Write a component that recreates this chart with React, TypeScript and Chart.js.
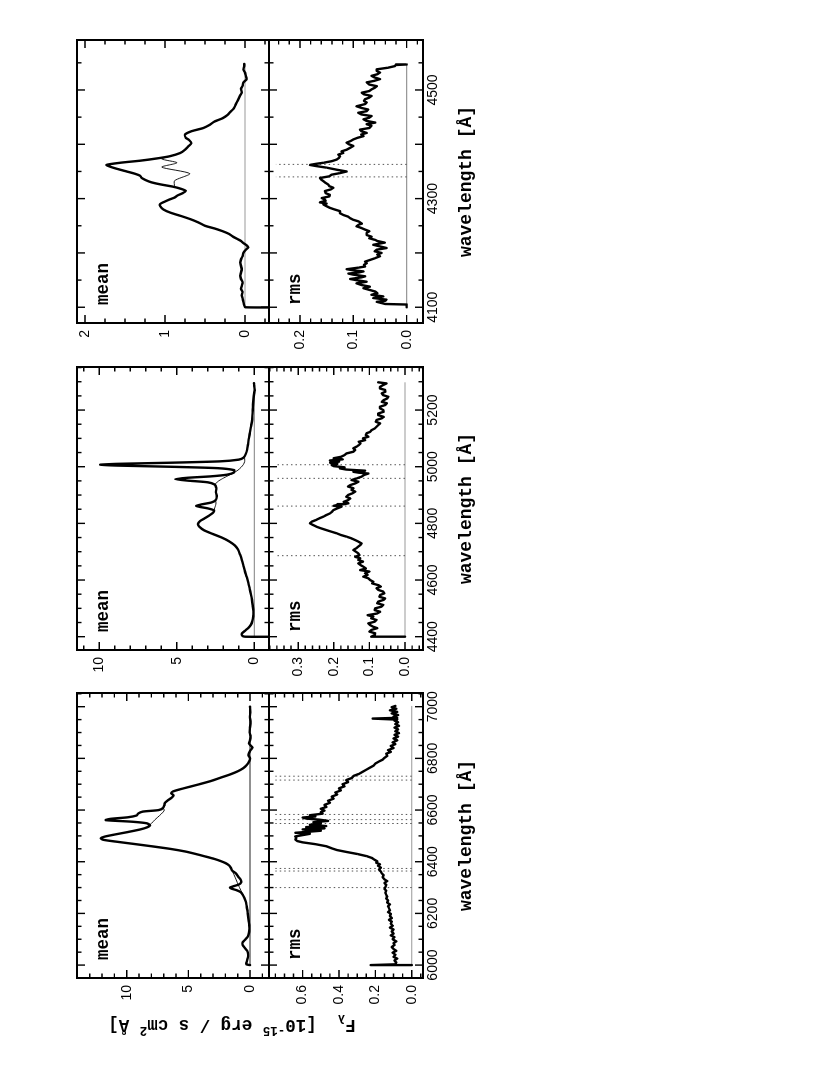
import React, { useEffect, useRef } from "react";
import { Chart, registerables } from "chart.js";

Chart.register(...registerables);

type Pt = [number, number];

// ---------------- DATA ----------------
// H-alpha region: mean spectrum (thick), narrow-line-free profile (thin), rms spectrum
const haMean: Pt[] = [
  [6000, 0.0], [6003, 0.3], [6012, 0.28], [6025, 0.2], [6040, 0.15], [6055, 0.22], [6068, 0.45], [6078, 0.6],
  [6088, 0.6], [6098, 0.4], [6110, 0.18], [6125, 0.08], [6140, 0.05], [6155, 0.06], [6170, 0.1], [6185, 0.14],
  [6200, 0.18], [6215, 0.22], [6230, 0.28], [6245, 0.34], [6260, 0.45], [6272, 0.58], [6282, 0.75], [6290, 1.1],
  [6296, 1.5], [6300, 1.62], [6305, 1.35], [6312, 0.9], [6320, 0.72], [6330, 0.75], [6342, 0.95], [6355, 1.15],
  [6366, 1.45], [6376, 1.55], [6386, 1.7], [6395, 2.0], [6403, 2.4], [6411, 2.9], [6420, 3.6], [6430, 4.4],
  [6440, 5.3], [6450, 6.5], [6460, 8.0], [6470, 9.6], [6478, 10.9], [6485, 11.9], [6491, 12.1], [6497, 11.8],
  [6505, 11.0], [6515, 9.9], [6525, 8.9], [6533, 8.35], [6541, 8.1], [6549, 8.4], [6555, 9.6], [6561, 11.7],
  [6566, 11.3], [6572, 9.9], [6579, 9.2], [6587, 9.05], [6594, 8.7], [6600, 7.4], [6608, 7.05], [6618, 6.95],
  [6628, 6.9], [6638, 6.65], [6648, 6.35], [6657, 6.2], [6665, 6.4], [6672, 6.25], [6680, 5.7], [6690, 4.9],
  [6700, 4.1], [6712, 3.2], [6725, 2.4], [6738, 1.6], [6750, 1.0], [6762, 0.55], [6775, 0.25], [6790, 0.05],
  [6800, 0.0], [6812, 0.12], [6822, 0.08], [6832, -0.05], [6842, -0.2], [6850, -0.05], [6858, 0.08], [6870, 0.0],
  [6885, -0.05], [6900, 0.03], [6920, 0.0], [6940, -0.04], [6960, 0.01], [6980, -0.02], [7000, 0.0],
];
const haMeanThinA: Pt[] = [[6272, 0.58], [6290, 0.75], [6310, 0.95], [6330, 1.12], [6350, 1.3], [6370, 1.5], [6386, 1.7]];
const haMeanThinB: Pt[] = [[6533, 8.35], [6548, 8.0], [6563, 7.7], [6578, 7.35], [6592, 7.05], [6600, 6.95], [6608, 7.05]];
const haRms: Pt[] = [
  [6000, 0], [6000, 0.225], [6003, 0.09], [6010, 0.085], [6018, 0.095], [6025, 0.08], [6032, 0.1], [6040, 0.09],
  [6048, 0.105], [6055, 0.085], [6062, 0.1], [6070, 0.11], [6078, 0.095], [6085, 0.1], [6092, 0.085], [6100, 0.105],
  [6108, 0.095], [6115, 0.115], [6122, 0.1], [6130, 0.11], [6138, 0.1], [6145, 0.12], [6152, 0.105], [6160, 0.115],
  [6168, 0.11], [6175, 0.125], [6182, 0.11], [6190, 0.12], [6198, 0.115], [6205, 0.13], [6212, 0.12], [6220, 0.125],
  [6228, 0.13], [6235, 0.12], [6242, 0.135], [6250, 0.13], [6258, 0.14], [6265, 0.135], [6272, 0.14], [6280, 0.145],
  [6288, 0.14], [6295, 0.15], [6302, 0.145], [6310, 0.14], [6318, 0.15], [6325, 0.135], [6332, 0.15], [6340, 0.16],
  [6348, 0.155], [6355, 0.165], [6362, 0.17], [6370, 0.18], [6377, 0.17], [6384, 0.185], [6390, 0.175], [6396, 0.195],
  [6402, 0.19], [6408, 0.205], [6415, 0.22], [6422, 0.25], [6430, 0.3], [6438, 0.36], [6445, 0.41], [6452, 0.44],
  [6460, 0.47], [6468, 0.53], [6475, 0.6], [6480, 0.63], [6486, 0.64], [6492, 0.635], [6498, 0.64], [6503, 0.6],
  [6508, 0.56], [6512, 0.64], [6516, 0.57], [6520, 0.5], [6525, 0.6], [6529, 0.48], [6534, 0.58], [6538, 0.47],
  [6543, 0.56], [6548, 0.5], [6553, 0.54], [6558, 0.46], [6563, 0.51], [6567, 0.58], [6571, 0.6], [6575, 0.53],
  [6580, 0.56], [6586, 0.49], [6592, 0.5], [6598, 0.48], [6605, 0.5], [6612, 0.47], [6620, 0.48], [6628, 0.45],
  [6636, 0.46], [6644, 0.43], [6652, 0.44], [6660, 0.41], [6668, 0.42], [6676, 0.39], [6684, 0.4], [6692, 0.37],
  [6700, 0.38], [6708, 0.35], [6716, 0.36], [6724, 0.33], [6732, 0.32], [6740, 0.29], [6748, 0.27], [6756, 0.25],
  [6764, 0.23], [6772, 0.21], [6780, 0.2], [6788, 0.18], [6795, 0.16], [6802, 0.15], [6810, 0.135], [6818, 0.14],
  [6825, 0.115], [6832, 0.13], [6840, 0.1], [6848, 0.115], [6855, 0.09], [6862, 0.105], [6870, 0.08], [6877, 0.1],
  [6884, 0.075], [6891, 0.095], [6898, 0.07], [6905, 0.09], [6912, 0.075], [6919, 0.095], [6926, 0.07], [6933, 0.09],
  [6940, 0.075], [6946, 0.095], [6950, 0.08], [6954, 0.215], [6957, 0.08], [6962, 0.1], [6968, 0.075], [6974, 0.11],
  [6980, 0.08], [6986, 0.12], [6992, 0.085], [6998, 0.11], [7003, 0.09],
];
const haZero = [6000, 7003];
const haLines = [6300, 6364, 6374, 6548, 6563, 6583, 6716, 6731];
const haLineTop = 0.75;
const haWaveTicks = [6000, 6200, 6400, 6600, 6800, 7000];
const haMeanTicks = [0, 5, 10];
const haRmsTicks = [0, 0.2, 0.4, 0.6];

// H-beta region
const hbMean: Pt[] = [
  [4400, -2.0], [4400, 0.6], [4404, 0.78], [4411, 0.8], [4420, 0.62], [4430, 0.4], [4442, 0.22], [4456, 0.12],
  [4472, 0.07], [4490, 0.06], [4510, 0.1], [4530, 0.15], [4550, 0.22], [4570, 0.3], [4590, 0.38], [4610, 0.48],
  [4630, 0.6], [4650, 0.7], [4670, 0.8], [4690, 0.92], [4708, 1.05], [4722, 1.25], [4736, 1.6], [4750, 2.1],
  [4763, 2.7], [4776, 3.25], [4788, 3.55], [4798, 3.63], [4808, 3.5], [4818, 3.2], [4828, 2.9], [4838, 2.65],
  [4846, 2.6], [4853, 3.0], [4858, 3.5], [4862, 3.75], [4867, 3.4], [4874, 2.75], [4882, 2.5], [4895, 2.42],
  [4910, 2.48], [4925, 2.45], [4937, 2.55], [4945, 3.0], [4951, 4.3], [4956, 5.1], [4961, 4.3], [4966, 2.8],
  [4972, 1.75], [4980, 1.3], [4988, 1.3], [4995, 2.4], [5000, 5.5], [5004, 8.8], [5007, 9.95], [5010, 8.9],
  [5014, 5.5], [5019, 2.2], [5025, 1.0], [5032, 0.7], [5045, 0.55], [5060, 0.46], [5080, 0.4], [5100, 0.35],
  [5120, 0.28], [5140, 0.22], [5160, 0.15], [5180, 0.12], [5200, 0.1], [5220, 0.08], [5240, 0.05], [5255, 0.02],
  [5270, -0.03], [5285, 0.0], [5295, 0.02],
];
const hbMeanThinA: Pt[] = [[4846, 2.6], [4855, 2.55], [4863, 2.5], [4872, 2.47], [4882, 2.5]];
const hbMeanThinB: Pt[] = [
  [4937, 2.55], [4948, 2.35], [4958, 2.05], [4968, 1.7], [4978, 1.35], [4988, 1.05], [4998, 0.85], [5008, 0.7],
  [5018, 0.62], [5028, 0.62], [5035, 0.65],
];
const hbRms: Pt[] = [
  [4400, 0], [4400, 0.095], [4406, 0.085], [4412, 0.084], [4418, 0.1], [4424, 0.094], [4430, 0.078], [4435, 0.089],
  [4441, 0.098], [4447, 0.103], [4453, 0.085], [4459, 0.08], [4465, 0.095], [4471, 0.089], [4476, 0.105], [4482, 0.078],
  [4488, 0.07], [4494, 0.085], [4500, 0.084], [4506, 0.066], [4512, 0.061], [4518, 0.078], [4524, 0.075], [4530, 0.06],
  [4535, 0.056], [4541, 0.072], [4547, 0.07], [4553, 0.058], [4559, 0.061], [4565, 0.075], [4571, 0.08], [4577, 0.068],
  [4582, 0.075], [4588, 0.092], [4594, 0.089], [4600, 0.098], [4606, 0.103], [4612, 0.117], [4618, 0.105], [4624, 0.112],
  [4630, 0.1], [4635, 0.126], [4641, 0.11], [4647, 0.117], [4653, 0.125], [4659, 0.131], [4665, 0.118], [4671, 0.131],
  [4677, 0.126], [4682, 0.14], [4688, 0.128], [4694, 0.131], [4700, 0.138], [4706, 0.145], [4712, 0.137], [4718, 0.131],
  [4724, 0.125], [4729, 0.122], [4735, 0.13], [4741, 0.14], [4747, 0.15], [4753, 0.164], [4759, 0.18], [4765, 0.192],
  [4770, 0.205], [4776, 0.22], [4782, 0.235], [4788, 0.248], [4794, 0.258], [4800, 0.267], [4806, 0.262], [4812, 0.25],
  [4818, 0.24], [4824, 0.229], [4830, 0.22], [4835, 0.211], [4841, 0.205], [4847, 0.201], [4853, 0.19], [4859, 0.178],
  [4862, 0.2], [4865, 0.19], [4868, 0.17], [4871, 0.159], [4876, 0.172], [4882, 0.16], [4888, 0.154], [4894, 0.165],
  [4900, 0.16], [4906, 0.148], [4912, 0.14], [4918, 0.15], [4924, 0.145], [4930, 0.16], [4935, 0.154], [4941, 0.14],
  [4947, 0.131], [4953, 0.15], [4959, 0.135], [4965, 0.122], [4971, 0.115], [4976, 0.103], [4979, 0.13], [4982, 0.145],
  [4986, 0.112], [4990, 0.165], [4994, 0.183], [4998, 0.17], [5002, 0.2], [5006, 0.206], [5010, 0.19], [5014, 0.21],
  [5018, 0.185], [5022, 0.211], [5026, 0.175], [5030, 0.2], [5035, 0.18], [5041, 0.17], [5047, 0.164], [5053, 0.145],
  [5059, 0.14], [5065, 0.145], [5071, 0.136], [5076, 0.13], [5082, 0.125], [5088, 0.13], [5094, 0.112], [5100, 0.118],
  [5106, 0.103], [5112, 0.11], [5118, 0.108], [5123, 0.098], [5129, 0.094], [5135, 0.085], [5141, 0.08], [5147, 0.075],
  [5153, 0.07], [5159, 0.082], [5165, 0.08], [5171, 0.065], [5176, 0.06], [5182, 0.075], [5188, 0.075], [5194, 0.06],
  [5200, 0.061], [5206, 0.07], [5212, 0.07], [5218, 0.055], [5224, 0.051], [5229, 0.065], [5235, 0.06], [5241, 0.05],
  [5247, 0.047], [5253, 0.062], [5259, 0.065], [5265, 0.055], [5271, 0.056], [5276, 0.07], [5282, 0.07], [5288, 0.062],
  [5294, 0.052], [5298, 0.075],
];
const hbZero = [4400, 5298];
const hbLines = [4686, 4861, 4959, 5007];
const hbLineTop = 0.365;
const hbWaveTicks = [4400, 4600, 4800, 5000, 5200];
const hbMeanTicks = [0, 5, 10];
const hbRmsTicks = [0, 0.1, 0.2, 0.3];

// H-gamma region
const hgMean: Pt[] = [
  [4100, -0.6], [4100, 0.0], [4104, 0.01], [4110, 0.02], [4116, 0.03], [4122, 0.04], [4128, 0.03], [4134, 0.05],
  [4140, 0.04], [4146, 0.03], [4152, 0.05], [4158, 0.06], [4164, 0.05], [4170, 0.04], [4176, 0.05], [4182, 0.06],
  [4188, 0.05], [4194, 0.03], [4200, 0.02], [4206, -0.01], [4210, -0.04], [4214, -0.02], [4218, 0.02], [4222, 0.05],
  [4226, 0.1], [4230, 0.15], [4235, 0.2], [4240, 0.28], [4245, 0.38], [4250, 0.5], [4256, 0.58], [4262, 0.68],
  [4268, 0.8], [4274, 0.93], [4280, 1.02], [4286, 1.06], [4290, 1.06], [4294, 1.01], [4298, 0.95], [4302, 0.88],
  [4306, 0.84], [4310, 0.78], [4314, 0.74], [4318, 0.8], [4322, 0.9], [4326, 1.05], [4330, 1.17], [4334, 1.24],
  [4338, 1.29], [4342, 1.31], [4346, 1.38], [4350, 1.48], [4354, 1.58], [4358, 1.67], [4362, 1.73], [4366, 1.56],
  [4370, 1.3], [4374, 1.1], [4378, 0.94], [4384, 0.81], [4390, 0.75], [4396, 0.71], [4402, 0.67], [4408, 0.7],
  [4412, 0.74], [4418, 0.75], [4424, 0.67], [4430, 0.52], [4436, 0.44], [4442, 0.38], [4448, 0.28], [4454, 0.22],
  [4460, 0.18], [4466, 0.14], [4472, 0.12], [4478, 0.1], [4484, 0.08], [4490, 0.06], [4496, 0.04], [4502, 0.05],
  [4508, 0.03], [4514, 0.02], [4520, -0.02], [4526, -0.01], [4532, 0.0], [4538, 0.02], [4544, 0.01], [4548, 0.01],
];
const hgMeanThin: Pt[] = [[4322, 0.88], [4333, 0.88], [4346, 0.69], [4358, 1.04], [4366, 0.85], [4373, 1.04], [4378, 0.94]];
const hgRms: Pt[] = [
  [4100, 0], [4105, 0], [4106, 0.04], [4110, 0.056], [4112, 0.04], [4114, 0.038], [4117, 0.0625], [4120, 0.044],
  [4123, 0.066], [4126, 0.055], [4129, 0.059], [4132, 0.07], [4135, 0.081], [4138, 0.069], [4141, 0.085], [4144, 0.094],
  [4147, 0.075], [4150, 0.095], [4152, 0.106], [4155, 0.085], [4157, 0.078], [4160, 0.1], [4162, 0.109], [4164, 0.09],
  [4166, 0.081], [4168, 0.1], [4170, 0.1125], [4173, 0.09], [4175, 0.078], [4178, 0.08], [4181, 0.075], [4184, 0.078],
  [4187, 0.069], [4190, 0.06], [4194, 0.05], [4197, 0.055], [4200, 0.047], [4203, 0.06], [4206, 0.056], [4209, 0.0375],
  [4212, 0.05], [4215, 0.0625], [4219, 0.041], [4222, 0.055], [4224, 0.059], [4227, 0.07], [4230, 0.066], [4233, 0.075],
  [4237, 0.075], [4240, 0.07], [4243, 0.078], [4246, 0.085], [4249, 0.094], [4252, 0.09], [4254, 0.084], [4258, 0.09],
  [4261, 0.1], [4264, 0.106], [4267, 0.11], [4270, 0.119], [4273, 0.125], [4277, 0.125], [4280, 0.135], [4283, 0.144],
  [4286, 0.15], [4289, 0.156], [4291, 0.15], [4293, 0.1625], [4296, 0.152], [4298, 0.153], [4301, 0.159], [4304, 0.145],
  [4307, 0.144], [4310, 0.152], [4314, 0.153], [4317, 0.142], [4320, 0.1375], [4323, 0.145], [4326, 0.147], [4329, 0.152],
  [4332, 0.156], [4335, 0.16], [4338, 0.1625], [4341, 0.145], [4344, 0.141], [4347, 0.125], [4350, 0.1125], [4353, 0.13],
  [4357, 0.15], [4360, 0.17], [4362, 0.181], [4364, 0.17], [4366, 0.156], [4369, 0.14], [4372, 0.131], [4375, 0.127],
  [4378, 0.125], [4381, 0.128], [4384, 0.119], [4387, 0.122], [4390, 0.1125], [4394, 0.105], [4397, 0.1], [4400, 0.108],
  [4403, 0.1125], [4406, 0.105], [4409, 0.1], [4412, 0.092], [4415, 0.081], [4418, 0.085], [4421, 0.075], [4424, 0.085],
  [4427, 0.0875], [4430, 0.07], [4434, 0.066], [4437, 0.075], [4440, 0.059], [4443, 0.075], [4446, 0.081], [4449, 0.07],
  [4452, 0.066], [4455, 0.085], [4458, 0.0906], [4461, 0.075], [4464, 0.072], [4467, 0.085], [4470, 0.094], [4474, 0.078],
  [4477, 0.075], [4480, 0.08], [4483, 0.078], [4486, 0.07], [4489, 0.066], [4492, 0.08], [4495, 0.084], [4498, 0.07],
  [4501, 0.066], [4504, 0.06], [4507, 0.056], [4510, 0.07], [4514, 0.075], [4517, 0.06], [4520, 0.05], [4523, 0.06],
  [4526, 0.066], [4529, 0.055], [4532, 0.05], [4535, 0.056], [4538, 0.056], [4541, 0.035], [4544, 0.022], [4546, 0.02],
  [4547, 0.0],
];
const hgZero = [4100, 4548];
const hgLines = [4340, 4363];
const hgLineTop = 0.245;
const hgWaveTicks = [4100, 4300, 4500];
const hgMeanTicks = [0, 1, 2];
const hgRmsTicks = [0, 0.1, 0.2];

// ---------------- LAYOUT ----------------
const FIG_W = 1075;
const FIG_H = 830;
const YW = 44; // y-axis box width
const XH = 58; // x-axis box height (rms panels)

interface PanelDef {
  id: string;
  u0: number; u1: number; v0: number; v1: number;
  L: number; T: number; R: number; B: number;
  xMin: number; xMax: number; yMin: number; yMax: number;
  xMajor: number; xMinor: number; yMajor: number; yMinor: number;
  xLabels: number[] | null; yLabels: number[]; yDigits: number;
  label: string;
  thick: Pt[]; thin: Pt[][];
  zero: number[]; zeroColor: string;
  marks: number[]; markTop: number;
  tension: number;
  yTitle?: boolean;
}

const COLS = [
  { u0: 97, u1: 382, xMin: 5950, xMax: 7053, xMajor: 200 },
  { u0: 425, u1: 708, xMin: 4353, xMax: 5352, xMajor: 200 },
  { u0: 752, u1: 1035, xMin: 4071, xMax: 4592, xMajor: 100 },
];
const MEAN_V = [77, 269];
const RMS_V = [269, 423];

const PANELS: PanelDef[] = [
  {
    id: "ha-mean", ...COLS[0], v0: MEAN_V[0], v1: MEAN_V[1], L: 90, T: 12, R: 12, B: 200,
    yMin: -1.54, yMax: 14.03, xMinor: 50, yMajor: 5, yMinor: 1,
    xLabels: null, yLabels: haMeanTicks, yDigits: 0, label: "mean",
    thick: haMean, thin: [haMeanThinA, haMeanThinB], zero: haZero, zeroColor: "#222",
    marks: [], markTop: 0, tension: 0.25, yTitle: true,
  },
  {
    id: "ha-rms", ...COLS[0], v0: RMS_V[0], v1: RMS_V[1], L: 50, T: 12, R: 12, B: 70,
    yMin: -0.062, yMax: 0.785, xMinor: 50, yMajor: 0.2, yMinor: 0.05,
    xLabels: haWaveTicks, yLabels: haRmsTicks, yDigits: 1, label: "rms",
    thick: haRms, thin: [], zero: haZero, zeroColor: "#999",
    marks: haLines, markTop: haLineTop, tension: 0,
  },
  {
    id: "hb-mean", ...COLS[1], v0: MEAN_V[0], v1: MEAN_V[1], L: 50, T: 12, R: 12, B: 12,
    yMin: -0.95, yMax: 11.44, xMinor: 50, yMajor: 5, yMinor: 1,
    xLabels: null, yLabels: hbMeanTicks, yDigits: 0, label: "mean",
    thick: hbMean, thin: [hbMeanThinA, hbMeanThinB], zero: hbZero, zeroColor: "#999",
    marks: [], markTop: 0, tension: 0.2,
  },
  {
    id: "hb-rms", ...COLS[1], v0: RMS_V[0], v1: RMS_V[1], L: 50, T: 12, R: 12, B: 70,
    yMin: -0.0506, yMax: 0.382, xMinor: 50, yMajor: 0.1, yMinor: 0.02,
    xLabels: hbWaveTicks, yLabels: hbRmsTicks, yDigits: 1, label: "rms",
    thick: hbRms, thin: [], zero: hbZero, zeroColor: "#999",
    marks: hbLines, markTop: hbLineTop, tension: 0,
  },
  {
    id: "hg-mean", ...COLS[2], v0: MEAN_V[0], v1: MEAN_V[1], L: 50, T: 12, R: 12, B: 12,
    yMin: -0.3, yMax: 2.1, xMinor: 50, yMajor: 1, yMinor: 0.25,
    xLabels: null, yLabels: hgMeanTicks, yDigits: 0, label: "mean",
    thick: hgMean, thin: [hgMeanThin], zero: hgZero, zeroColor: "#999",
    marks: [], markTop: 0, tension: 0.25,
  },
  {
    id: "hg-rms", ...COLS[2], v0: RMS_V[0], v1: RMS_V[1], L: 50, T: 12, R: 12, B: 70,
    yMin: -0.0306, yMax: 0.258, xMinor: 50, yMajor: 0.1, yMinor: 0.02,
    xLabels: hgWaveTicks, yLabels: hgRmsTicks, yDigits: 1, label: "rms",
    thick: hgRms, thin: [], zero: hgZero, zeroColor: "#999",
    marks: hgLines, markTop: hgLineTop, tension: 0,
  },
];

const MONO = '"Liberation Mono", "Courier New", monospace';
const SANS = '"Liberation Sans", Arial, sans-serif';

function tickList(min: number, max: number, minor: number, major: number) {
  const out: { v: number; major: boolean }[] = [];
  const k0 = Math.ceil(min / minor - 1e-9);
  const k1 = Math.floor(max / minor + 1e-9);
  for (let k = k0; k <= k1; k++) {
    const v = k * minor;
    const r = v / major;
    out.push({ v, major: Math.abs(r - Math.round(r)) < 1e-6 });
  }
  return out;
}

function drawYTitle(ctx: CanvasRenderingContext2D, cx: number, cy: number) {
  const big = 17.5;
  const small = 12.5;
  const segs = [
    { t: "F", s: big, dy: 0 },
    { t: "λ", s: small, dy: 5 },
    { t: "  [10", s: big, dy: 0 },
    { t: "-15", s: small, dy: -7 },
    { t: " erg / s cm", s: big, dy: 0 },
    { t: "2", s: small, dy: -7 },
    { t: " Å]", s: big, dy: 0 },
  ];
  ctx.save();
  ctx.translate(cx, cy);
  ctx.rotate(-Math.PI / 2);
  ctx.fillStyle = "#000";
  ctx.textBaseline = "alphabetic";
  ctx.textAlign = "left";
  let total = 0;
  for (const s of segs) {
    ctx.font = `bold ${s.s}px ${MONO}`;
    total += ctx.measureText(s.t).width;
  }
  let x = -total / 2;
  for (const s of segs) {
    ctx.font = `bold ${s.s}px ${MONO}`;
    ctx.fillText(s.t, x, 5 + s.dy);
    x += ctx.measureText(s.t).width;
  }
  ctx.restore();
}

function makeDecor(p: PanelDef) {
  return {
    id: "decor_" + p.id.replace("-", "_"),
    afterDatasetsDraw(chart: any) {
      const { ctx, chartArea: a } = chart;
      const xs = chart.scales.x;
      const ys = chart.scales.y;
      ctx.save();
      ctx.strokeStyle = "#000";
      ctx.lineCap = "butt";
      ctx.lineWidth = 1.4;
      ctx.beginPath();
      for (const t of tickList(p.xMin, p.xMax, p.xMinor, p.xMajor)) {
        const px = xs.getPixelForValue(t.v);
        const len = t.major ? 8 : 4.5;
        ctx.moveTo(px, a.bottom);
        ctx.lineTo(px, a.bottom - len);
        ctx.moveTo(px, a.top);
        ctx.lineTo(px, a.top + len);
      }
      for (const t of tickList(p.yMin, p.yMax, p.yMinor, p.yMajor)) {
        const py = ys.getPixelForValue(t.v);
        const len = t.major ? 8 : 4.5;
        ctx.moveTo(a.left, py);
        ctx.lineTo(a.left + len, py);
        ctx.moveTo(a.right, py);
        ctx.lineTo(a.right - len, py);
      }
      ctx.stroke();
      ctx.lineWidth = 2;
      ctx.strokeRect(a.left, a.top, a.right - a.left, a.bottom - a.top);
      ctx.fillStyle = "#000";
      ctx.font = `bold 17.5px ${MONO}`;
      ctx.textAlign = "left";
      ctx.textBaseline = "alphabetic";
      ctx.fillText(p.label, a.left + 18, a.top + 31);
      if (p.yTitle) drawYTitle(ctx, a.left - 47, a.top + 155);
      ctx.restore();
    },
  };
}

function buildConfig(p: PanelDef): any {
  const toXY = (arr: Pt[]) => arr.map(([x, y]) => ({ x, y }));
  const datasets: any[] = [];
  datasets.push({
    data: toXY(p.thick), borderColor: "#000", borderWidth: 2.4, tension: p.tension,
    pointRadius: 0, borderJoinStyle: "round", borderCapStyle: "round",
  });
  p.thin.forEach((seg) =>
    datasets.push({ data: toXY(seg), borderColor: "#000", borderWidth: 0.9, tension: p.tension, pointRadius: 0 })
  );
  p.marks.forEach((m) =>
    datasets.push({
      data: [{ x: m, y: 0 }, { x: m, y: p.markTop }], borderColor: "#555", borderWidth: 1,
      borderDash: [1.5, 3], pointRadius: 0, tension: 0,
    })
  );
  datasets.push({
    data: [{ x: p.zero[0], y: 0 }, { x: p.zero[1], y: 0 }], borderColor: p.zeroColor,
    borderWidth: 1.2, pointRadius: 0, tension: 0,
  });

  const showX = !!p.xLabels;
  return {
    type: "line",
    data: { datasets },
    plugins: [makeDecor(p)],
    options: {
      responsive: false,
      animation: false,
      devicePixelRatio: 1,
      events: [],
      layout: {
        padding: { left: p.L - YW, top: p.T, right: p.R, bottom: showX ? p.B - XH : p.B },
      },
      plugins: { legend: { display: false }, tooltip: { enabled: false }, title: { display: false } },
      scales: {
        x: {
          type: "linear",
          bounds: "data",
          min: p.xMin,
          max: p.xMax,
          display: showX,
          grid: { display: false, drawTicks: false },
          border: { display: false },
          ticks: {
            color: "#000",
            font: { family: SANS, size: 14 },
            padding: 2,
            autoSkip: false,
            maxRotation: 0,
            minRotation: 0,
            callback: (v: any) => String(v),
          },
          afterBuildTicks: (s: any) => {
            s.ticks = (p.xLabels || []).map((v) => ({ value: v }));
          },
          afterFit: (s: any) => {
            s.height = showX ? XH : 0;
            s.paddingLeft = 0;
            s.paddingRight = 0;
          },
          title: {
            display: showX,
            text: "wavelength [Å]",
            color: "#000",
            font: { family: MONO, size: 18, weight: "bold" },
            padding: { top: 0, bottom: 4 },
          },
        },
        y: {
          type: "linear",
          bounds: "data",
          min: p.yMin,
          max: p.yMax,
          grid: { display: false, drawTicks: false },
          border: { display: false },
          ticks: {
            color: "#000",
            font: { family: SANS, size: 14 },
            padding: 7,
            autoSkip: false,
            callback: (v: any) => (p.yDigits ? Number(v).toFixed(p.yDigits) : String(v)),
          },
          afterBuildTicks: (s: any) => {
            s.ticks = p.yLabels.map((v) => ({ value: v }));
          },
          afterFit: (s: any) => {
            s.width = YW;
            s.paddingTop = 0;
            s.paddingBottom = 0;
          },
        },
      },
    },
  };
}

function Panel({ p }: { p: PanelDef }) {
  const ref = useRef<HTMLCanvasElement | null>(null);
  const w = p.u1 - p.u0 + p.L + p.R;
  const h = p.v1 - p.v0 + p.T + p.B;
  useEffect(() => {
    if (!ref.current) return;
    const chart = new Chart(ref.current, buildConfig(p));
    return () => chart.destroy();
  }, [p]);
  return (
    <canvas
      ref={ref}
      width={w}
      height={h}
      style={{ position: "absolute", left: p.u0 - p.L, top: p.v0 - p.T, width: w, height: h }}
    />
  );
}

export default function App() {
  return (
    <div
      style={{
        position: "fixed",
        left: 0,
        top: 0,
        width: FIG_H,
        height: FIG_W,
        overflow: "hidden",
        background: "#fff",
      }}
    >
      <div
        style={{
          position: "absolute",
          left: 0,
          top: 0,
          width: FIG_W,
          height: FIG_H,
          transformOrigin: "0 0",
          transform: `translateY(${FIG_W}px) rotate(-90deg)`,
        }}
      >
        {PANELS.map((p) => (
          <Panel key={p.id} p={p} />
        ))}
      </div>
    </div>
  );
}
